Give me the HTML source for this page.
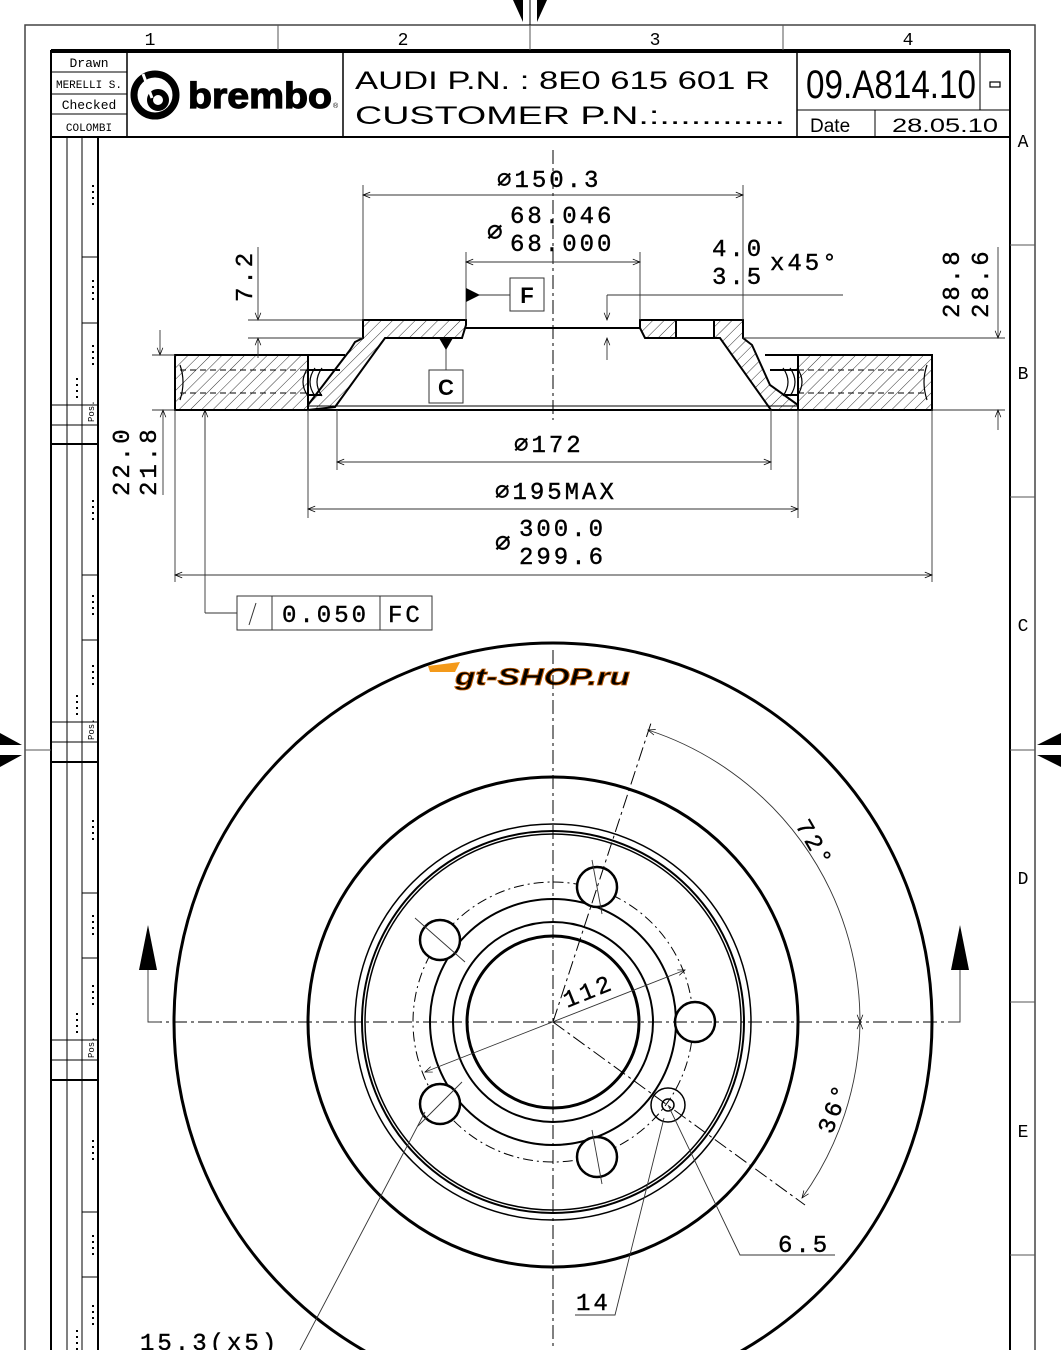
<!DOCTYPE html>
<html><head><meta charset="utf-8">
<style>
html,body{margin:0;padding:0;background:#fff;}
svg{display:block;}
text{font-family:"Liberation Mono","DejaVu Sans Mono",monospace;fill:#000;}
.s{font-family:"Liberation Sans",sans-serif;}
.c{font-family:"Liberation Sans Narrow","Liberation Sans",sans-serif;}
</style></head>
<body>
<svg width="1061" height="1350" viewBox="0 0 1061 1350" xmlns="http://www.w3.org/2000/svg">
<defs>
<pattern id="h" width="8" height="8" patternUnits="userSpaceOnUse" patternTransform="rotate(45)">
<line x1="0" y1="0" x2="0" y2="8" stroke="#000" stroke-width="0.8"/>
</pattern>
<marker id="a" viewBox="0 0 10 10" refX="10" refY="5" markerWidth="10" markerHeight="8" orient="auto-start-reverse"><path d="M0,1 L10,5 L0,9" fill="none" stroke="#000" stroke-width="1"/></marker>
</defs>

<rect x="25" y="25" width="1010" height="1340" fill="none" stroke="#444" stroke-width="1.5"/>
<line x1="51" y1="50" x2="1010" y2="50" stroke="#000" stroke-width="2"/>
<line x1="51" y1="50" x2="51" y2="1350" stroke="#000" stroke-width="2"/>
<line x1="1010" y1="50" x2="1010" y2="1350" stroke="#000" stroke-width="2"/>
<g stroke="#555" stroke-width="1">
<line x1="278" y1="25" x2="278" y2="50"/><line x1="530" y1="25" x2="530" y2="50"/><line x1="783" y1="25" x2="783" y2="50"/>
<line x1="1010" y1="245" x2="1035" y2="245"/><line x1="1010" y1="497" x2="1035" y2="497"/><line x1="1010" y1="750" x2="1035" y2="750"/><line x1="1010" y1="1002" x2="1035" y2="1002"/><line x1="1010" y1="1255" x2="1035" y2="1255"/>
<line x1="25" y1="750" x2="51" y2="750"/>
</g>
<g class="s" font-size="18" text-anchor="middle">
<text x="150" y="45">1</text><text x="403" y="45">2</text><text x="655" y="45">3</text><text x="908" y="45">4</text>
<text x="1023" y="147">A</text><text x="1023" y="379">B</text><text x="1023" y="631">C</text><text x="1023" y="884">D</text><text x="1023" y="1137">E</text>
</g>
<path d="M513,0 L523,0 L523,22 Z" fill="#000"/><path d="M537,0 L547,0 L537,22 Z" fill="#000"/>
<line x1="530" y1="0" x2="530" y2="25" stroke="#000"/>
<path d="M0,733 L22,745 L0,745 Z" fill="#000"/><path d="M0,755 L22,755 L0,767 Z" fill="#000"/>
<path d="M1061,733 L1037,745 L1061,745 Z" fill="#000"/><path d="M1061,755 L1037,755 L1061,767 Z" fill="#000"/>

<g stroke="#000" fill="none">
<rect x="51" y="52" width="959" height="85" stroke-width="2"/>
<line x1="127" y1="52" x2="127" y2="137" stroke-width="1.5"/>
<line x1="343" y1="52" x2="343" y2="137" stroke-width="1.5"/>
<line x1="797" y1="52" x2="797" y2="137" stroke-width="1.5"/>
<line x1="980" y1="52" x2="980" y2="110" stroke-width="1"/>
<line x1="797" y1="110" x2="1010" y2="110" stroke-width="1"/>
<line x1="875" y1="110" x2="875" y2="137" stroke-width="1"/>
<line x1="51" y1="72" x2="127" y2="72"/><line x1="51" y1="94" x2="127" y2="94"/><line x1="51" y1="114" x2="127" y2="114"/>
<rect x="990" y="82" width="10" height="5" stroke-width="1.2"/>
</g>
<g font-size="13" text-anchor="middle">
<text x="89" y="67">Drawn</text><text x="89" y="88" font-size="11">MERELLI S.</text>
<text x="89" y="109">Checked</text><text x="89" y="131" font-size="11">COLOMBI</text>
</g>
<circle cx="155" cy="95" r="21" fill="none" stroke="#000" stroke-width="7"/>
<circle cx="158" cy="100" r="8" fill="none" stroke="#000" stroke-width="6"/>
<line x1="143" y1="74" x2="152" y2="98" stroke="#fff" stroke-width="3"/>
<text x="188" y="108" class="s" font-size="36" font-weight="bold" stroke="#000" stroke-width="1.2" textLength="144" lengthAdjust="spacingAndGlyphs">brembo</text>
<text x="333" y="108" class="s" font-size="7">®</text>
<text x="355" y="89" font-size="25" class="c" textLength="415" lengthAdjust="spacingAndGlyphs">AUDI P.N. : 8E0 615 601 R</text>
<text x="355" y="124" font-size="25" class="c" textLength="430" lengthAdjust="spacingAndGlyphs">CUSTOMER P.N.:............</text>
<text x="806" y="98" font-size="40" class="c" textLength="170" lengthAdjust="spacingAndGlyphs">09.A814.10</text>
<text x="810" y="132" font-size="19" class="c">Date</text>
<text x="892" y="132" font-size="19" class="c" textLength="106" lengthAdjust="spacingAndGlyphs">28.05.10</text>

<g stroke="#000" fill="none" stroke-width="1">
<line x1="51" y1="137" x2="98" y2="137" stroke-width="2"/>
<line x1="98" y1="137" x2="98" y2="1350" stroke-width="2"/>
<line x1="67" y1="137" x2="67" y2="1350"/><line x1="82" y1="137" x2="82" y2="1350"/>
<line x1="51" y1="444" x2="98" y2="444" stroke-width="2"/><line x1="51" y1="762" x2="98" y2="762" stroke-width="2"/><line x1="51" y1="1080" x2="98" y2="1080" stroke-width="2"/>
<line x1="82" y1="257" x2="98" y2="257"/><line x1="82" y1="323" x2="98" y2="323"/>
<line x1="51" y1="405" x2="98" y2="405"/><line x1="51" y1="425" x2="98" y2="425"/>
<line x1="82" y1="575" x2="98" y2="575"/><line x1="82" y1="640" x2="98" y2="640"/>
<line x1="51" y1="722" x2="98" y2="722"/><line x1="51" y1="742" x2="98" y2="742"/>
<line x1="82" y1="893" x2="98" y2="893"/><line x1="82" y1="958" x2="98" y2="958"/>
<line x1="51" y1="1040" x2="98" y2="1040"/><line x1="51" y1="1060" x2="98" y2="1060"/>
<line x1="82" y1="1212" x2="98" y2="1212"/><line x1="82" y1="1277" x2="98" y2="1277"/>
</g>
<g font-size="9" class="s">
<text transform="translate(94,422) rotate(-90)">Pos.</text>
<text transform="translate(94,740) rotate(-90)">Pos.</text>
<text transform="translate(94,1058) rotate(-90)">Pos.</text>
</g>
<g stroke="#000" stroke-width="2" stroke-dasharray="2,4">
<line x1="93" y1="185" x2="93" y2="205"/><line x1="93" y1="280" x2="93" y2="300"/><line x1="93" y1="345" x2="93" y2="365"/>
<line x1="93" y1="500" x2="93" y2="520"/><line x1="93" y1="595" x2="93" y2="615"/><line x1="93" y1="665" x2="93" y2="685"/>
<line x1="93" y1="820" x2="93" y2="840"/><line x1="93" y1="915" x2="93" y2="935"/><line x1="93" y1="985" x2="93" y2="1005"/>
<line x1="93" y1="1140" x2="93" y2="1160"/><line x1="93" y1="1235" x2="93" y2="1255"/><line x1="93" y1="1305" x2="93" y2="1325"/>
<line x1="77" y1="378" x2="77" y2="400"/><line x1="77" y1="695" x2="77" y2="717"/><line x1="77" y1="1013" x2="77" y2="1035"/><line x1="77" y1="1330" x2="77" y2="1350"/>
</g>

<g stroke="#000" stroke-width="2" fill="url(#h)">
<path d="M175,355 L308,355 L308,410 L175,410 Z"/>
<path d="M798,355 L932,355 L932,410 L798,410 Z"/>
<path d="M363,320 L466,320 L466,325 L462,338 L385,338 L335,407 L308,410 L308,405 L350,350 L355,342 L363,338 Z"/>
<path d="M640,320 L743,320 L743,338 L752,345 L770,385 L798,405 L798,410 L771,410 L720,338 L645,338 L640,328 Z"/>
</g>
<g stroke="#000" stroke-width="2" fill="#fff">
<rect x="676" y="320" width="38" height="18"/>
<path d="M308,355 L345,355 M308,370 L340,370 M308,395 L322,395"/>
<path d="M798,355 L765,355 M798,370 L770,370 M798,395 L785,395"/>
</g>
<g stroke="#000" stroke-width="1.2" fill="none">
<path d="M180,365 Q186,382 180,400"/><path d="M927,365 Q921,382 927,400"/>
<path d="M308,368 Q298,382 308,396 M315,368 Q305,382 315,396 M322,368 Q312,382 322,396"/>
<path d="M790,368 Q800,382 790,396 M797,368 Q807,382 797,396 M783,368 Q793,382 783,396"/>
<line x1="466" y1="328" x2="640" y2="328" stroke-width="2"/>
<line x1="308" y1="410" x2="798" y2="410" stroke-width="2"/>
<line x1="308" y1="406" x2="798" y2="406" stroke-width="1"/>
</g>
<g stroke="#000" stroke-width="1" stroke-dasharray="6,4" fill="none">
<line x1="180" y1="370" x2="308" y2="370"/><line x1="180" y1="393" x2="308" y2="393"/>
<line x1="798" y1="370" x2="927" y2="370"/><line x1="798" y1="393" x2="927" y2="393"/>
</g>
<line x1="553" y1="150" x2="553" y2="420" stroke="#000" stroke-width="1" stroke-dasharray="14,4,3,4"/>

<g stroke="#333" stroke-width="0.9" fill="none">
<line x1="363" y1="185" x2="363" y2="320"/><line x1="743" y1="185" x2="743" y2="320"/>
<line x1="363" y1="195" x2="743" y2="195" marker-start="url(#a)" marker-end="url(#a)"/>
<line x1="466" y1="252" x2="466" y2="320"/><line x1="640" y1="252" x2="640" y2="320"/>
<line x1="466" y1="262" x2="640" y2="262" marker-start="url(#a)" marker-end="url(#a)"/>
<line x1="337" y1="410" x2="337" y2="470"/><line x1="771" y1="410" x2="771" y2="470"/>
<line x1="337" y1="462" x2="771" y2="462" marker-start="url(#a)" marker-end="url(#a)"/>
<line x1="308" y1="410" x2="308" y2="518"/><line x1="798" y1="410" x2="798" y2="518"/>
<line x1="308" y1="509" x2="798" y2="509" marker-start="url(#a)" marker-end="url(#a)"/>
<line x1="175" y1="410" x2="175" y2="582"/><line x1="932" y1="410" x2="932" y2="582"/>
<line x1="175" y1="575" x2="932" y2="575" marker-start="url(#a)" marker-end="url(#a)"/>
<line x1="160" y1="330" x2="160" y2="355" marker-end="url(#a)"/>
<line x1="163" y1="495" x2="163" y2="410" marker-end="url(#a)"/>
<line x1="152" y1="355" x2="175" y2="355"/><line x1="152" y1="410" x2="175" y2="410"/>
<line x1="205" y1="410" x2="205" y2="613"/><line x1="205" y1="613" x2="237" y2="613"/>
<line x1="205" y1="440" x2="205" y2="410" marker-end="url(#a)"/>
<line x1="258" y1="247" x2="258" y2="320" marker-end="url(#a)"/>
<line x1="258" y1="358" x2="258" y2="338" marker-end="url(#a)"/>
<line x1="248" y1="320" x2="363" y2="320"/><line x1="248" y1="338" x2="363" y2="338"/>
<line x1="607" y1="295" x2="843" y2="295"/>
<line x1="607" y1="295" x2="607" y2="320" marker-end="url(#a)"/>
<line x1="607" y1="360" x2="607" y2="338" marker-end="url(#a)"/>
<line x1="743" y1="338" x2="1005" y2="338"/><line x1="932" y1="410" x2="1005" y2="410"/>
<line x1="998" y1="247" x2="998" y2="338" marker-end="url(#a)"/>
<line x1="998" y1="430" x2="998" y2="410" marker-end="url(#a)"/>
<line x1="466" y1="295" x2="510" y2="295"/>
<line x1="446" y1="338" x2="446" y2="370"/>
</g>
<path d="M466,288 L480,295 L466,302 Z" fill="#000"/>
<path d="M439,338 L453,338 L446,350 Z" fill="#000"/>
<rect x="510" y="278" width="34" height="33" fill="#fff" stroke="#333" stroke-width="1"/>
<text x="527" y="303" text-anchor="middle" font-size="22" class="s" font-weight="bold">F</text>
<rect x="429" y="370" width="34" height="33" fill="#fff" stroke="#333" stroke-width="1"/>
<text x="446" y="395" text-anchor="middle" font-size="22" class="s" font-weight="bold">C</text>

<g class="s" font-size="24" letter-spacing="3" stroke="#000" stroke-width="0.4">
<text x="497" y="187">⌀150.3</text>
<text x="487" y="240" font-size="26">⌀</text>
<text x="510" y="223">68.046</text><text x="510" y="251">68.000</text>
<text x="712" y="256">4.0</text><text x="712" y="284">3.5</text><text x="770" y="270">x45°</text>
<text x="514" y="452">⌀172</text>
<text x="495" y="499">⌀195MAX</text>
<text x="495" y="551" font-size="26">⌀</text>
<text x="519" y="536">300.0</text><text x="519" y="564">299.6</text>
<text transform="translate(252,302) rotate(-90)">7.2</text>
<text transform="translate(129,496) rotate(-90)">22.0</text>
<text transform="translate(156,496) rotate(-90)">21.8</text>
<text transform="translate(959,318) rotate(-90)">28.8</text>
<text transform="translate(988,318) rotate(-90)">28.6</text>
</g>
<g stroke="#333" fill="#fff" stroke-width="1">
<rect x="237" y="596" width="195" height="34"/>
<line x1="272" y1="596" x2="272" y2="630"/><line x1="380" y1="596" x2="380" y2="630"/>
<line x1="249" y1="625" x2="256" y2="603"/>
</g>
<g class="s" font-size="24" letter-spacing="3" stroke="#000" stroke-width="0.4"><text x="282" y="622">0.050</text><text x="388" y="622">FC</text></g>

<path d="M428,666 L460,662 L455,672 L430,672 Z" fill="#f49a1a"/>
<text x="455" y="685" class="s" font-size="24" font-weight="bold" font-style="italic" fill="#f5a31a" stroke="#c05a00" stroke-width="0.8" textLength="175" lengthAdjust="spacingAndGlyphs">gt-SHOP.ru</text>

<g fill="none" stroke="#000">
<circle cx="553" cy="1022" r="379" stroke-width="3"/>
<circle cx="553" cy="1022" r="245" stroke-width="3"/>
<circle cx="553" cy="1022" r="198" stroke-width="1.5"/>
<circle cx="553" cy="1022" r="191" stroke-width="2"/>
<circle cx="553" cy="1022" r="188" stroke-width="1.5"/>
<circle cx="553" cy="1022" r="123" stroke-width="2"/>
<circle cx="553" cy="1022" r="100" stroke-width="2"/>
<circle cx="553" cy="1022" r="86" stroke-width="3"/>
<circle cx="553" cy="1022" r="140" stroke-width="1" stroke-dasharray="10,4,2,4"/>
<circle cx="695" cy="1022" r="20" stroke-width="2.5" fill="#fff"/>
<circle cx="597" cy="887" r="20" stroke-width="2.5" fill="#fff"/>
<circle cx="440" cy="940" r="20" stroke-width="2.5" fill="#fff"/>
<circle cx="440" cy="1104" r="20" stroke-width="2.5" fill="#fff"/>
<circle cx="597" cy="1157" r="20" stroke-width="2.5" fill="#fff"/>
<circle cx="668" cy="1105" r="17" stroke-width="1.5"/>
<circle cx="668" cy="1105" r="6" stroke-width="1.5"/>
</g>
<g stroke="#000" stroke-width="1" stroke-dasharray="14,4,3,4" fill="none">
<line x1="148" y1="1022" x2="960" y2="1022"/>
<line x1="553" y1="650" x2="553" y2="1350"/>
<line x1="553" y1="1022" x2="652" y2="720"/>
<line x1="553" y1="1022" x2="805" y2="1205"/>
</g>
<g stroke="#333" stroke-width="0.9" fill="none">
<path d="M148,970 L148,1022 L160,1022"/><path d="M960,970 L960,1022 L948,1022"/>
<path d="M648,730 A307,307 0 0 1 860,1022" marker-start="url(#a)" marker-end="url(#a)"/>
<path d="M860,1022 A307,307 0 0 1 802,1198" marker-start="url(#a)" marker-end="url(#a)"/>
<line x1="425" y1="1072" x2="685" y2="970" marker-start="url(#a)" marker-end="url(#a)"/>
<path d="M668,1105 L740,1255 L835,1255"/>
<path d="M664,1118 L615,1315 L575,1315"/>
<path d="M425,1112 L300,1350"/>
<line x1="415" y1="918" x2="465" y2="962"/><line x1="418" y1="1126" x2="462" y2="1082"/>
<line x1="592" y1="860" x2="602" y2="914"/><line x1="592" y1="1130" x2="602" y2="1184"/>
</g>
<path d="M139,970 L148,925 L157,970 Z" fill="#000"/>
<path d="M951,970 L960,925 L969,970 Z" fill="#000"/>
<g class="s" font-size="24" letter-spacing="3" stroke="#000" stroke-width="0.4">
<text transform="translate(567,1008) rotate(-22)">112</text>
<text transform="translate(795,825) rotate(60)">72°</text>
<text transform="translate(832,1135) rotate(-70)">36°</text>
<text x="778" y="1252">6.5</text>
<text x="576" y="1310">14</text>
<text x="140" y="1350">15.3(x5)</text>
</g>
</svg>
</body></html>
